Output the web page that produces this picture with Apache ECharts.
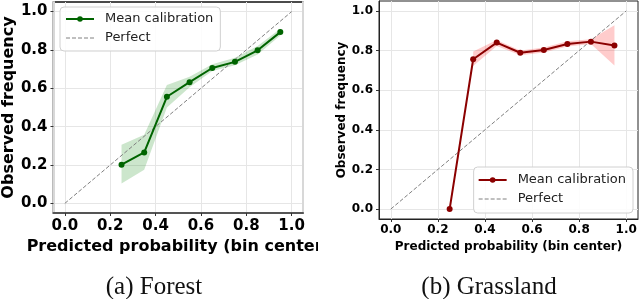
<!DOCTYPE html>
<html><head><meta charset="utf-8">
<script src="https://cdn.jsdelivr.net/npm/echarts@6/dist/echarts.min.js"></script>
<style>html,body{margin:0;padding:0;background:#fff}#c{width:640px;height:299px}</style>
</head><body><div id="c"></div>
<script>
// ---- data ----
const binCenters = [0.25, 0.35, 0.45, 0.55, 0.65, 0.75, 0.85, 0.95];
const forestMean  = [0.202, 0.266, 0.556, 0.632, 0.706, 0.738, 0.798, 0.893];
const forestLower = [0.104, 0.176, 0.500, 0.605, 0.690, 0.720, 0.776, 0.876];
const forestUpper = [0.306, 0.358, 0.617, 0.660, 0.725, 0.760, 0.820, 0.910];
const grassMean   = [0.000, 0.756, 0.840, 0.789, 0.803, 0.833, 0.845, 0.826];
const grassBandX  = [0.35, 0.45, 0.55, 0.65, 0.75, 0.85, 0.95];
const grassLower  = [0.722, 0.823, 0.776, 0.790, 0.820, 0.833, 0.725];
const grassUpper  = [0.795, 0.853, 0.800, 0.815, 0.847, 0.857, 0.928];
const perfectX = [0, 1];
const perfectY = [0, 1];
const tickValues = [0, 0.2, 0.4, 0.6, 0.8, 1.0];
const seriesNames = ['Mean calibration', 'Perfect'];
const xName = 'Predicted probability (bin center)';
const yName = 'Observed frequency';
const captions = ['(a) Forest', '(b) Grassland'];

const pairs = (xs, ys) => xs.map((x, i) => [x, ys[i]]);
const triples = (xs, lo, hi) => xs.map((x, i) => [x, lo[i], hi[i]]);

const SANS = 'DejaVu Sans';
const fmt = v => v.toFixed(1);

function makeX(gridIndex, fs, nfs, margin, nameGap, lineColor, lineWidth) {
  return {
    type: 'value', gridIndex, min: -0.05, max: 1.05,
    axisLine: { show: true, onZero: false, lineStyle: { color: lineColor, width: lineWidth } },
    axisTick: { show: true, length: 3, customValues: tickValues, lineStyle: { color: '#333' } },
    axisLabel: { customValues: tickValues, formatter: fmt, margin, color: '#000',
      fontFamily: SANS, fontWeight: 'bold', fontSize: fs },
    splitLine: { show: true, lineStyle: { color: '#e6e6e6', width: 1 } },
    name: xName, nameLocation: 'middle', nameGap,
    nameTextStyle: { fontFamily: SANS, fontWeight: 'bold', fontSize: nfs, color: '#000' }
  };
}
function makeY(gridIndex, fs, nfs, margin, nameGap, lineColor, lineWidth) {
  return {
    type: 'value', gridIndex, min: -0.05, max: 1.05,
    axisLine: { show: true, onZero: false, lineStyle: { color: lineColor, width: lineWidth } },
    axisTick: { show: true, length: 3, customValues: tickValues, lineStyle: { color: '#333' } },
    axisLabel: { customValues: tickValues, formatter: fmt, margin, color: '#000',
      fontFamily: SANS, fontWeight: 'bold', fontSize: fs },
    splitLine: { show: true, lineStyle: { color: '#e6e6e6', width: 1 } },
    name: yName, nameLocation: 'middle', nameGap,
    nameTextStyle: { fontFamily: SANS, fontWeight: 'bold', fontSize: nfs, color: '#000' }
  };
}

const legendCommon = {
  orient: 'vertical', itemWidth: 28, itemHeight: 7, itemGap: 3,
  backgroundColor: 'rgba(255,255,255,0.85)', borderColor: '#d0d0d0', borderWidth: 1, borderRadius: 4,
  textStyle: { fontFamily: SANS, fontSize: 13, lineHeight: 16, color: '#222', padding: [0, 0, 0, 6] }
};

function legendData(color) {
  return [
    { name: seriesNames[0], itemStyle: { color }, lineStyle: { color, width: 2 } },
    { name: seriesNames[1], itemStyle: { color: '#808080', opacity: 0 }, lineStyle: { color: '#808080', width: 1, type: [4, 2] } }
  ];
}

function bandSeries(xi, yi, xs, lo, hi, fill) {
  return {
    type: 'custom', xAxisIndex: xi, yAxisIndex: yi, silent: true, z: 1,
    encode: { x: 0, y: [1, 2] },
    data: triples(xs, lo, hi),
    renderItem: function (params, api) {
      if (params.dataIndex !== 0) return null;
      const pts = [];
      for (let i = 0; i < xs.length; i++) pts.push(api.coord([xs[i], hi[i]]));
      for (let i = xs.length - 1; i >= 0; i--) pts.push(api.coord([xs[i], lo[i]]));
      return { type: 'polygon', shape: { points: pts }, style: { fill, stroke: null } };
    }
  };
}

const option = {
  animation: false,
  backgroundColor: '#fff',
  grid: [
    { left: 53, top: 2, width: 250, height: 211, show: true, borderColor: '#111', borderWidth: 1.5, backgroundColor: 'transparent' },
    { left: 379, top: 1, width: 259, height: 218, show: true, borderColor: '#222', borderWidth: 1, backgroundColor: 'transparent' }
  ],
  xAxis: [
    makeX(0, 15, 16, 6, 21, '#555', 2),
    makeX(1, 12, 12, 5, 19, '#222', 1)
  ],
  yAxis: [
    makeY(0, 15, 16, 6, 33, '#d8d8d8', 2),
    makeY(1, 12, 12, 6, 30, '#222', 1),
    { type: 'value', gridIndex: 0, min: -0.05, max: 1.05, position: 'right',
      axisLine: { show: true, onZero: false, lineStyle: { color: '#d8d8d8', width: 2 } },
      axisTick: { show: false }, axisLabel: { show: false }, splitLine: { show: false } }
  ],
  legend: [
    Object.assign({ left: 60, top: 7, padding: [4, 7, 5, 5], data: legendData('#006400') }, legendCommon),
    Object.assign({ right: 7, top: 167, padding: [5, 7, 6, 4], data: legendData('#8b0000') }, legendCommon)
  ],
  series: [
    bandSeries(0, 0, binCenters, forestLower, forestUpper, 'rgba(0,128,0,0.2)'),
    { name: seriesNames[1], type: 'line', xAxisIndex: 0, yAxisIndex: 0, symbol: 'none',
      lineStyle: { color: '#808080', width: 1, type: [4, 2] }, itemStyle: { color: '#808080' },
      data: pairs(perfectX, perfectY), z: 2 },
    { name: seriesNames[0], type: 'line', xAxisIndex: 0, yAxisIndex: 0, symbol: 'circle', symbolSize: 6,
      lineStyle: { color: '#006400', width: 2 }, itemStyle: { color: '#006400' },
      data: pairs(binCenters, forestMean), z: 3 },
    bandSeries(1, 1, grassBandX, grassLower, grassUpper, 'rgba(255,0,0,0.2)'),
    { name: seriesNames[1], type: 'line', xAxisIndex: 1, yAxisIndex: 1, symbol: 'none',
      lineStyle: { color: '#808080', width: 1, type: [4, 2] }, itemStyle: { color: '#808080' },
      data: pairs(perfectX, perfectY), z: 2 },
    { name: seriesNames[0], type: 'line', xAxisIndex: 1, yAxisIndex: 1, symbol: 'circle', symbolSize: 6,
      lineStyle: { color: '#8b0000', width: 2 }, itemStyle: { color: '#8b0000' },
      data: pairs(binCenters, grassMean), z: 3 }
  ],
  graphic: [
    { type: 'rect', left: 318, top: 228, shape: { width: 22, height: 30 }, style: { fill: '#fff' }, z: 100 },
    { type: 'text', x: 154, y: 287, style: { text: captions[0], font: '25px "Liberation Serif"', fill: '#111', align: 'center', verticalAlign: 'middle' } },
    { type: 'text', x: 489, y: 287, style: { text: captions[1], font: '25px "Liberation Serif"', fill: '#111', align: 'center', verticalAlign: 'middle' } }
  ]
};
const chart = echarts.init(document.getElementById('c'), null, { renderer: 'canvas' });
chart.setOption(option);
</script></body></html>
